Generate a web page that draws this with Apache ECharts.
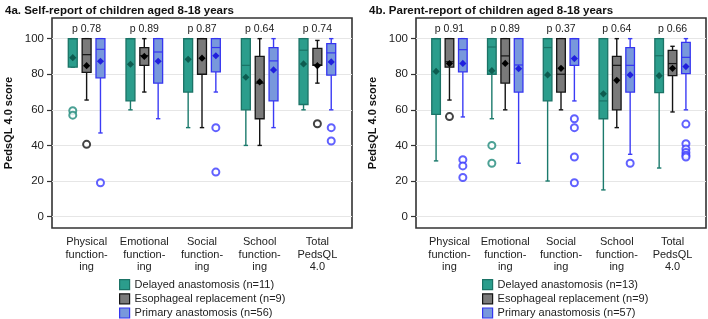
<!DOCTYPE html>
<html style="height: 100%">
<head>
    <meta charset="utf-8">
    <title>PedsQL 4.0 scores by surgical group</title>
    <script type="text/javascript" src="https://cdn.jsdelivr.net/npm/echarts@6/dist/echarts.min.js"></script>
</head>
<body style="height: 100%; margin: 0">
    <div id="container" style="width: 708px; height: 319px"></div>
    <script type="text/javascript">
        // x categories and p-values
        var categories = ['Physical\nfunction-\ning', 'Emotional\nfunction-\ning', 'Social\nfunction-\ning', 'School\nfunction-\ning', 'Total\nPedsQL\n4.0'];
        var pSelf = ['p 0.78', 'p 0.89', 'p 0.87', 'p 0.64', 'p 0.74'];
        var pParent = ['p 0.91', 'p 0.89', 'p 0.37', 'p 0.64', 'p 0.66'];
        var yTicks = [0, 20, 40, 60, 80, 100];

        // box = [low whisker, Q1, median, Q3, high whisker]
        // 4a. self-report
        var selfDelayedBox = [[84, 84, 100, 100, 100], [60, 65, 100, 100, 100], [50, 70, 100, 100, 100], [40, 60, 85, 100, 100], [60, 63, 93.5, 100, 100]];
        var selfDelayedMean = [89.3, 85.6, 88.4, 78.3, 85.8];
        var selfDelayedOut = [[59.5, 57], [], [], [], []];

        var selfEsophBox = [[65.5, 81, 91, 100, 100], [70, 85, 90.5, 95, 100], [50, 80, 100, 100, 100], [40, 55, 75, 90, 100], [75, 85, 85.3, 94.5, 99]];
        var selfEsophMean = [84.8, 90, 89, 75.7, 84.8];
        var selfEsophOut = [[40.6], [], [], [], [52.2]];

        var selfPrimaryBox = [[47, 78, 94, 100, 100], [55, 75, 92.5, 100, 100], [70, 81.3, 95, 100, 100], [50, 65, 87.5, 95, 100], [60, 79.5, 92, 97.2, 100]];
        var selfPrimaryMean = [87.3, 87.3, 90.4, 82.4, 86.9];
        var selfPrimaryOut = [[19], [], [50, 25], [], [50, 42.5]];

        // 4b. parent-report
        var parDelayedBox = [[31.3, 57.5, 100, 100, 100], [55, 80, 95.3, 100, 100], [20, 65, 95, 100, 100], [15, 55, 65, 100, 100], [27.3, 69.7, 90.4, 100, 100]];
        var parDelayedMean = [81.6, 82, 79.6, 69, 79.2];
        var parDelayedOut = [[], [40, 30], [], [], []];

        var parEsophBox = [[65.5, 84, 87, 100, 100], [60, 75, 90.3, 100, 100], [60, 70, 80, 100, 100], [50, 60, 85, 90, 100], [58.8, 79.2, 86, 93.4, 95.7]];
        var parEsophMean = [86, 86.1, 83.3, 76.6, 83.3];
        var parEsophOut = [[56.2], [], [], [], []];

        var parPrimaryBox = [[56, 81.3, 93.8, 100, 100], [30, 70, 85.2, 100, 100], [65, 85, 100, 100, 100], [35, 70, 85, 95, 100], [60, 80.3, 89.5, 97.9, 100]];
        var parPrimaryMean = [86.1, 83.1, 88.8, 79.6, 84.3];
        var parPrimaryOut = [[32, 28.5, 22], [], [55, 50, 33.5, 19], [30], [52, 41, 38, 36, 34.5, 33.5]];

        var namesSelf = ['Delayed anastomosis (n=11)', 'Esophageal replacement (n=9)', 'Primary anastomosis (n=56)'];
        var namesParent = ['Delayed anastomosis (n=13)', 'Esophageal replacement (n=9)', 'Primary anastomosis (n=57)'];

        var colors = [
            { fill: '#2b9d8c', border: '#1b7366', whisker: '#1b7a6c', mean: '#0d5c50', out: '#1f8a7a' },
            { fill: '#7a7a7a', border: '#141414', whisker: '#141414', mean: '#000000', out: '#141414' },
            { fill: '#7898dc', border: '#3535f0', whisker: '#3b3bf5', mean: '#2020dd', out: '#3a3aff' }
        ];
        var offsets = [-0.24, 0, 0.24];
        var boxWidth = 0.155;
        var font = '"Liberation Sans", Arial, sans-serif';

        function renderBox(offset, col) {
            return function (params, api) {
                var x = api.value(0) + offset;
                var low = api.coord([x, api.value(1)]);
                var q1 = api.coord([x, api.value(2)]);
                var med = api.coord([x, api.value(3)]);
                var q3 = api.coord([x, api.value(4)]);
                var high = api.coord([x, api.value(5)]);
                var mean = api.coord([x, api.value(6)]);
                var half = api.size([boxWidth, 0])[0] / 2;
                var cx = q1[0];
                var wStyle = { stroke: col.whisker, lineWidth: 1.4 };
                var d = 3.6;
                return {
                    type: 'group',
                    children: [
                        { type: 'line', shape: { x1: cx, y1: low[1], x2: cx, y2: q1[1] }, style: wStyle },
                        { type: 'line', shape: { x1: cx, y1: q3[1], x2: cx, y2: high[1] }, style: wStyle },
                        { type: 'line', shape: { x1: cx - 2.2, y1: low[1], x2: cx + 2.2, y2: low[1] }, style: wStyle },
                        { type: 'line', shape: { x1: cx - 2.2, y1: high[1], x2: cx + 2.2, y2: high[1] }, style: wStyle },
                        { type: 'rect', shape: { x: cx - half, y: q3[1], width: half * 2, height: q1[1] - q3[1] }, style: { fill: col.fill, stroke: col.border, lineWidth: 1.3 } },
                        { type: 'line', shape: { x1: cx - half, y1: med[1], x2: cx + half, y2: med[1] }, style: { stroke: col.border, lineWidth: 1.2 } },
                        { type: 'polygon', shape: { points: [[cx, mean[1] - d], [cx + d, mean[1]], [cx, mean[1] + d], [cx - d, mean[1]]] }, style: { fill: col.mean } }
                    ]
                };
            };
        }

        function renderP(pvals) {
            return function (params, api) {
                var p = api.coord([api.value(0), 100]);
                return { type: 'text', x: p[0], y: p[1] - 10, style: { text: pvals[params.dataIndex], fill: '#222', font: '10.5px ' + font, align: 'center', verticalAlign: 'middle' } };
            };
        }

        function panelSeries(grid, names, boxes, means, outs, pvals) {
            var list = [];
            for (var g = 0; g < 3; g++) {
                var data = boxes[g].map(function (b, i) { return [i, b[0], b[1], b[2], b[3], b[4], means[g][i]]; });
                list.push({
                    name: names[g], type: 'custom', xAxisIndex: grid, yAxisIndex: grid,
                    renderItem: renderBox(offsets[g], colors[g]),
                    itemStyle: { color: colors[g].fill, borderColor: colors[g].border },
                    encode: { x: 0, y: [1, 2, 3, 4, 5] },
                    data: data, z: 3
                });
                var pts = [];
                outs[g].forEach(function (vals, i) {
                    vals.forEach(function (v) { pts.push([i + offsets[g], v]); });
                });
                list.push({
                    name: names[g], type: 'scatter', xAxisIndex: grid, yAxisIndex: grid,
                    symbol: 'emptyCircle', symbolSize: 7,
                    itemStyle: { color: colors[g].out, borderColor: colors[g].out, borderWidth: 1.6 },
                    data: pts, z: 4
                });
            }
            list.push({
                type: 'custom', xAxisIndex: grid, yAxisIndex: grid, renderItem: renderP(pvals),
                encode: { x: 0 },
                data: pvals.map(function (p, i) { return [i]; }), z: 5, silent: true
            });
            return list;
        }

        function yAxis(grid) {
            return {
                type: 'value', gridIndex: grid, min: -6.4, max: 111.6,
                name: 'PedsQL 4.0 score', nameLocation: 'middle', nameGap: 38, nameRotate: 90,
                nameTextStyle: { fontFamily: font, fontWeight: 'bold', fontSize: 11, color: '#111' },
                axisLine: { show: false, onZero: false },
                axisTick: { show: true, length: 5, customValues: yTicks, lineStyle: { color: '#333', width: 1.2 } },
                axisLabel: { customValues: yTicks, fontFamily: font, fontSize: 11.5, color: '#222', margin: 8 },
                splitLine: { show: true, lineStyle: { color: '#e6e6e6', width: 1 } }
            };
        }

        function xAxis(grid) {
            return {
                type: 'value', gridIndex: grid, min: -0.6, max: 4.6,
                axisLine: { show: false, onZero: false }, axisTick: { show: false }, splitLine: { show: false },
                axisLabel: {
                    customValues: [0, 1, 2, 3, 4],
                    formatter: function (v) { return categories[Math.round(v)]; },
                    fontFamily: font, fontSize: 11, lineHeight: 12.5, color: '#222', margin: 8
                }
            };
        }

        function legend(left, names) {
            return {
                left: left, top: 279, bottom: 0, padding: 0, orient: 'vertical', itemWidth: 10, itemHeight: 10, itemGap: 3,
                textStyle: { fontFamily: font, fontSize: 11, color: '#222' },
                data: names.map(function (n, g) {
                    return { name: n, icon: 'rect', itemStyle: { color: colors[g].fill, borderColor: colors[g].border, borderWidth: 1.2 } };
                })
            };
        }

        var myChart = echarts.init(document.getElementById('container'));
        var option = {
            animation: false,
            backgroundColor: '#ffffff',
            title: [
                { text: '4a. Self-report of children aged 8-18 years', left: 5, top: 5, padding: 0, textStyle: { fontFamily: font, fontWeight: 'bold', fontSize: 11.5, color: '#111' } },
                { text: '4b. Parent-report of children aged 8-18 years', left: 369, top: 5, padding: 0, textStyle: { fontFamily: font, fontWeight: 'bold', fontSize: 11.5, color: '#111' } }
            ],
            legend: [legend(119, namesSelf), legend(482, namesParent)],
            grid: [
                { left: 52, top: 18, width: 300, height: 210, show: true, borderColor: '#333', borderWidth: 1.6, backgroundColor: 'transparent' },
                { left: 416, top: 18, width: 290, height: 210, show: true, borderColor: '#333', borderWidth: 1.6, backgroundColor: 'transparent' }
            ],
            xAxis: [xAxis(0), xAxis(1)],
            yAxis: [yAxis(0), yAxis(1)],
            series: [].concat(
                panelSeries(0, namesSelf,
                    [selfDelayedBox, selfEsophBox, selfPrimaryBox],
                    [selfDelayedMean, selfEsophMean, selfPrimaryMean],
                    [selfDelayedOut, selfEsophOut, selfPrimaryOut], pSelf),
                panelSeries(1, namesParent,
                    [parDelayedBox, parEsophBox, parPrimaryBox],
                    [parDelayedMean, parEsophMean, parPrimaryMean],
                    [parDelayedOut, parEsophOut, parPrimaryOut], pParent)
            )
        };
        myChart.setOption(option, true);
    </script>
</body>
</html>
